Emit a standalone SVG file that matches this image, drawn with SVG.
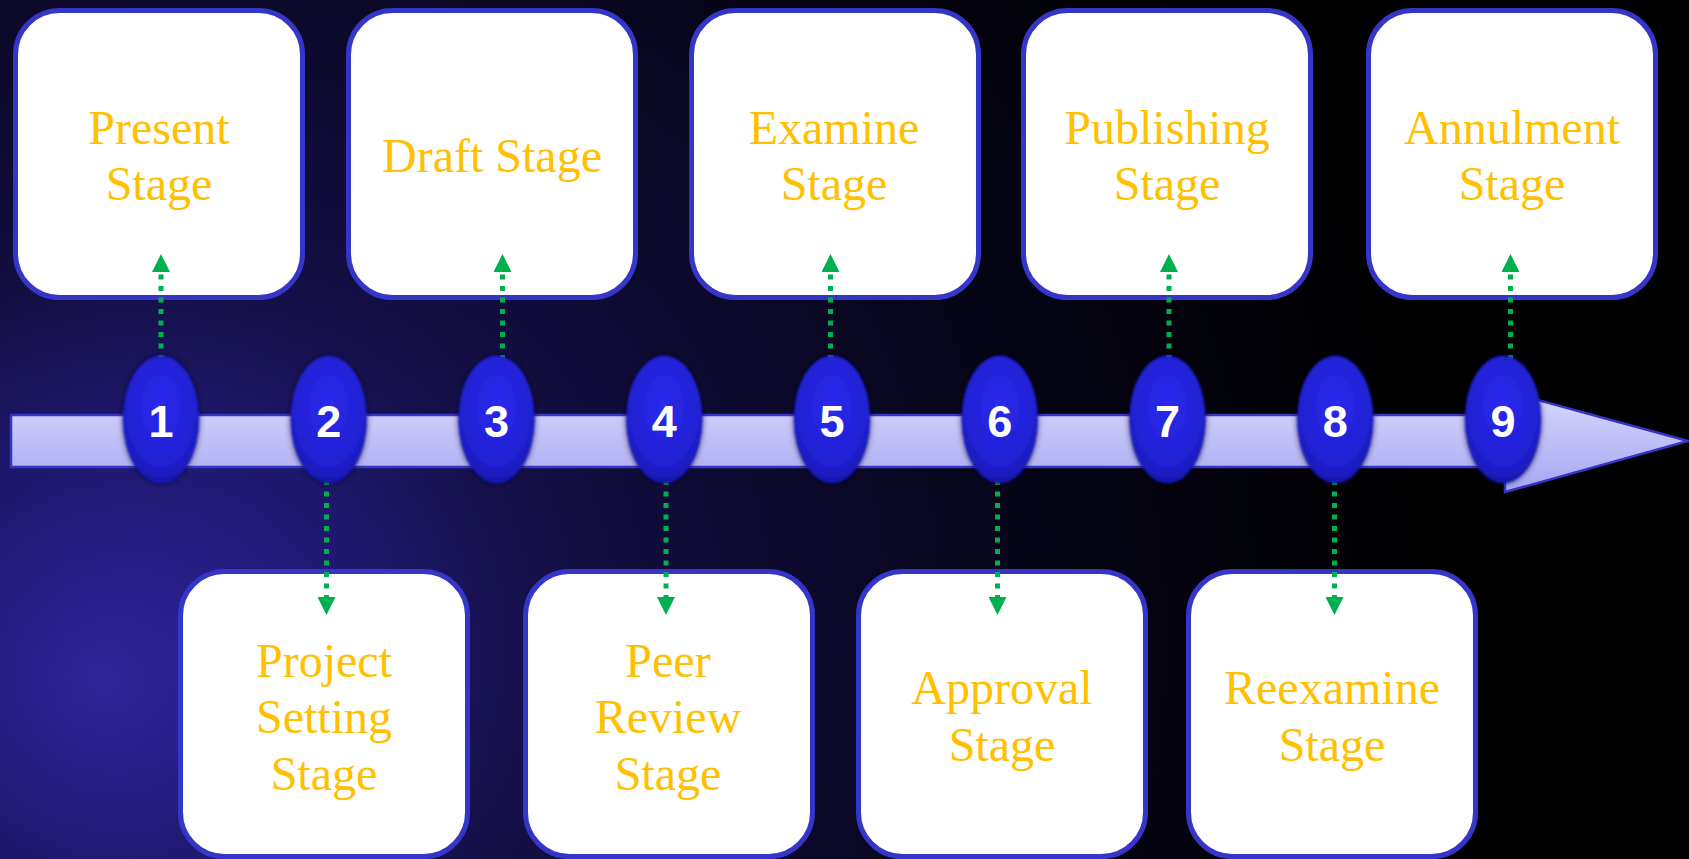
<svg xmlns="http://www.w3.org/2000/svg" width="1689" height="859" viewBox="0 0 1689 859">
  <defs>
    <style>
      .box { fill: #ffffff; stroke: #3535c8; stroke-width: 5; }
      .label { font-family: "Liberation Serif", "Times New Roman", serif; font-size: 48px; fill: #ffc000; text-anchor: middle; }
      .num { font-family: "Liberation Sans", Arial, sans-serif; font-size: 45px; font-weight: bold; fill: #ffffff; text-anchor: middle; }
      .link { fill: none; stroke: #00b050; stroke-width: 5; stroke-dasharray: 5 6.5; marker-end: url(#head); }
      .bead { fill: url(#beadFill); filter: url(#beadShadow); }
    </style>
    <radialGradient id="glowWide" gradientUnits="userSpaceOnUse" cx="200" cy="640" r="1250">
      <stop offset="0" stop-color="#221a7a"/>
      <stop offset="0.35" stop-color="#110d3c"/>
      <stop offset="0.7" stop-color="#050414"/>
      <stop offset="1" stop-color="#000000"/>
    </radialGradient>
    <radialGradient id="glowCore" gradientUnits="userSpaceOnUse" cx="100" cy="680" r="400">
      <stop offset="0" stop-color="#3428a6" stop-opacity="0.8"/>
      <stop offset="0.5" stop-color="#2a2090" stop-opacity="0.4"/>
      <stop offset="1" stop-color="#2a2090" stop-opacity="0"/>
    </radialGradient>
    <linearGradient id="barFill" x1="0" y1="0" x2="0" y2="1">
      <stop offset="0" stop-color="#d8d8fe"/>
      <stop offset="1" stop-color="#a6a6f2"/>
    </linearGradient>
    <radialGradient id="beadFill" cx="0.5" cy="0.4" r="0.62">
      <stop offset="0" stop-color="#2a2aee"/>
      <stop offset="0.75" stop-color="#2020d2"/>
      <stop offset="1" stop-color="#1616a8"/>
    </radialGradient>
    <filter id="beadShadow" x="-30%" y="-20%" width="160%" height="140%">
      <feGaussianBlur in="SourceAlpha" stdDeviation="3" result="b"/>
      <feFlood flood-color="#000020" flood-opacity="0.75"/>
      <feComposite in2="b" operator="in" result="s"/>
      <feGaussianBlur in="SourceGraphic" stdDeviation="0.8" result="g"/>
      <feMerge>
        <feMergeNode in="s"/>
        <feMergeNode in="g"/>
      </feMerge>
    </filter>
    <marker id="head" viewBox="0 0 18 18" refX="0" refY="9" markerWidth="18" markerHeight="18" markerUnits="userSpaceOnUse" orient="auto">
      <path d="M0,0 L18,9 L0,18 Z" fill="#00b050"/>
    </marker>
  </defs>

  <!-- background -->
  <rect width="1689" height="859" fill="url(#glowWide)"/>
  <rect width="1689" height="859" fill="url(#glowCore)"/>

  <!-- timeline arrow -->
  <path id="timeline" d="M11,415 H1505 V391 L1688,441 L1505,492 V467 H11 Z" fill="url(#barFill)" stroke="#3535c8" stroke-width="2.5" stroke-linejoin="miter"/>

  <!-- stage boxes -->
  <g id="stage-present">
    <rect class="box" x="15.5" y="10.5" width="287" height="287" rx="44"/>
    <text class="label" x="159" y="144">Present</text>
    <text class="label" x="159" y="200">Stage</text>
  </g>
  <g id="stage-project-setting">
    <rect class="box" x="180.5" y="571.5" width="287" height="285" rx="44"/>
    <text class="label" x="324" y="677">Project</text>
    <text class="label" x="324" y="733">Setting</text>
    <text class="label" x="324" y="790">Stage</text>
  </g>
  <g id="stage-draft">
    <rect class="box" x="348.5" y="10.5" width="287" height="287" rx="44"/>
    <text class="label" x="492" y="172">Draft Stage</text>
  </g>
  <g id="stage-peer-review">
    <rect class="box" x="525.5" y="571.5" width="287" height="285" rx="44"/>
    <text class="label" x="668" y="677">Peer</text>
    <text class="label" x="668" y="733">Review</text>
    <text class="label" x="668" y="790">Stage</text>
  </g>
  <g id="stage-examine">
    <rect class="box" x="691.5" y="10.5" width="287" height="287" rx="44"/>
    <text class="label" x="834" y="144">Examine</text>
    <text class="label" x="834" y="200">Stage</text>
  </g>
  <g id="stage-approval">
    <rect class="box" x="858.5" y="571.5" width="287" height="285" rx="44"/>
    <text class="label" x="1002" y="704">Approval</text>
    <text class="label" x="1002" y="761">Stage</text>
  </g>
  <g id="stage-publishing">
    <rect class="box" x="1023.5" y="10.5" width="287" height="287" rx="44"/>
    <text class="label" x="1167" y="144">Publishing</text>
    <text class="label" x="1167" y="200">Stage</text>
  </g>
  <g id="stage-reexamine">
    <rect class="box" x="1188.5" y="571.5" width="287" height="285" rx="44"/>
    <text class="label" x="1332" y="704">Reexamine</text>
    <text class="label" x="1332" y="761">Stage</text>
  </g>
  <g id="stage-annulment">
    <rect class="box" x="1368.5" y="10.5" width="287" height="287" rx="44"/>
    <text class="label" x="1512" y="144">Annulment</text>
    <text class="label" x="1512" y="200">Stage</text>
  </g>

  <!-- dotted connectors from the timeline beads to the stage boxes -->
  <g id="connectors">
    <line class="link" x1="161" y1="360" x2="161" y2="272"/>
    <line class="link" x1="326.5" y1="480" x2="326.5" y2="597"/>
    <line class="link" x1="502.5" y1="360" x2="502.5" y2="272"/>
    <line class="link" x1="666" y1="480" x2="666" y2="597"/>
    <line class="link" x1="830.5" y1="360" x2="830.5" y2="272"/>
    <line class="link" x1="997.5" y1="480" x2="997.5" y2="597"/>
    <line class="link" x1="1169" y1="360" x2="1169" y2="272"/>
    <line class="link" x1="1334.5" y1="480" x2="1334.5" y2="597"/>
    <line class="link" x1="1510.5" y1="360" x2="1510.5" y2="272"/>
  </g>

  <!-- numbered beads on the timeline -->
  <g id="bead-1"><ellipse class="bead" cx="161" cy="419.5" rx="38" ry="63.5"/><text class="num" x="161" y="437">1</text></g>
  <g id="bead-2"><ellipse class="bead" cx="328.75" cy="419.5" rx="38" ry="63.5"/><text class="num" x="328.75" y="437">2</text></g>
  <g id="bead-3"><ellipse class="bead" cx="496.5" cy="419.5" rx="38" ry="63.5"/><text class="num" x="496.5" y="437">3</text></g>
  <g id="bead-4"><ellipse class="bead" cx="664.25" cy="419.5" rx="38" ry="63.5"/><text class="num" x="664.25" y="437">4</text></g>
  <g id="bead-5"><ellipse class="bead" cx="832" cy="419.5" rx="38" ry="63.5"/><text class="num" x="832" y="437">5</text></g>
  <g id="bead-6"><ellipse class="bead" cx="999.75" cy="419.5" rx="38" ry="63.5"/><text class="num" x="999.75" y="437">6</text></g>
  <g id="bead-7"><ellipse class="bead" cx="1167.5" cy="419.5" rx="38" ry="63.5"/><text class="num" x="1167.5" y="437">7</text></g>
  <g id="bead-8"><ellipse class="bead" cx="1335.25" cy="419.5" rx="38" ry="63.5"/><text class="num" x="1335.25" y="437">8</text></g>
  <g id="bead-9"><ellipse class="bead" cx="1503" cy="419.5" rx="38" ry="63.5"/><text class="num" x="1503" y="437">9</text></g>
</svg>
